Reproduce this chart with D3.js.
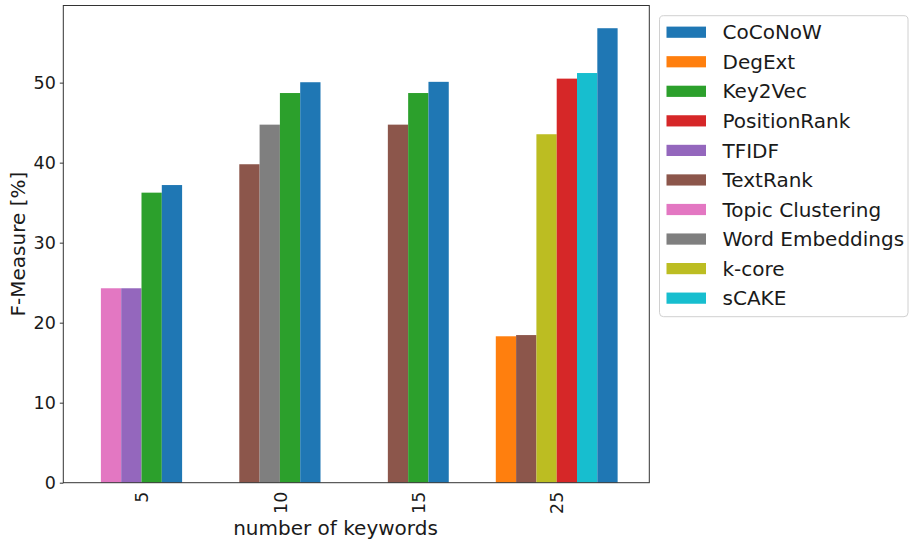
<!DOCTYPE html>
<html>
<head>
<meta charset="utf-8">
<script src="https://cdn.jsdelivr.net/npm/d3@7"></script>
<style>
body { margin: 0; background: #fff; }
text { font-family: "DejaVu Sans", sans-serif; fill: #1a1a1a; }
</style>
</head>
<body>
<div id="chart"></div>
<script>
var keywords = ["5", "10", "15", "25"];
var methods = ["CoCoNoW", "DegExt", "Key2Vec", "PositionRank", "TFIDF", "TextRank",
	"Topic Clustering", "Word Embeddings", "k-core", "sCAKE"];
var colors = ["#1f77b4", "#ff7f0e", "#2ca02c", "#d62728", "#9467bd", "#8c564b",
	"#e377c2", "#7f7f7f", "#bcbd22", "#17becf"];
var yTicks = [0, 10, 20, 30, 40, 50];

// F-measure per method, one value per keyword count (null = not reported)
var CoCoNoW         = [37.2, 50.05, 50.1, 56.8];
var DegExt          = [null, null, null, 18.3];
var Key2Vec         = [36.25, 48.7, 48.7, null];
var PositionRank    = [null, null, null, 50.5];
var TFIDF           = [24.3, null, null, null];
var TextRank        = [null, 39.8, 44.75, 18.45];
var TopicClustering = [24.3, null, null, null];
var WordEmbeddings  = [null, 44.75, null, null];
var kcore           = [null, null, null, 43.55];
var sCAKE           = [null, null, null, 51.2];

var series = [CoCoNoW, DegExt, Key2Vec, PositionRank, TFIDF, TextRank,
	TopicClustering, WordEmbeddings, kcore, sCAKE];

var width = 909, height = 541;
var plotL = 63.3, plotR = 649.3, plotT = 5.5, plotB = 482.7;
var barW = 0.1467;

var svg = d3.select("#chart")
	.append("svg")
	.attr("width", width)
	.attr("height", height);

var x = d3.scaleLinear().domain([-0.565, 3.669]).range([plotL, plotR]);
var y = d3.scaleLinear().domain([0, 59.64]).range([plotB, plotT]);

// bars: in each group only reported methods, sorted by value
var bars = [];
keywords.forEach(function(k, i){
	var g = [];
	series.forEach(function(s, m){
		if (s[i] != null) g.push({m: m, v: s[i]});
	});
	g.sort(function(a, b){ return a.v - b.v || b.m - a.m; });
	g.forEach(function(d, j){
		bars.push({m: d.m, v: d.v, x0: i + (j - g.length / 2) * barW});
	});
});

svg.append("g").selectAll("rect")
	.data(bars)
	.enter().append("rect")
	.attr("x", function(d){ return x(d.x0); })
	.attr("width", x(barW) - x(0))
	.attr("y", function(d){ return y(d.v); })
	.attr("height", function(d){ return y(0) - y(d.v); })
	.attr("fill", function(d){ return colors[d.m]; });

// frame
svg.append("rect")
	.attr("x", plotL).attr("y", plotT)
	.attr("width", plotR - plotL).attr("height", plotB - plotT)
	.attr("fill", "none")
	.attr("stroke", "#333")
	.attr("stroke-width", 1);

// y axis
var yAxis = svg.append("g")
	.attr("transform", "translate(" + plotL + ",0)")
	.call(d3.axisLeft(y).tickValues(yTicks).tickSize(3.5).tickPadding(4));
yAxis.select(".domain").remove();
yAxis.selectAll("line").attr("stroke", "#333");
yAxis.selectAll("text")
	.style("font-family", "DejaVu Sans")
	.style("font-size", "17.5px")
	.attr("fill", "#1a1a1a");

// x axis, rotated labels, no tick marks
var xAxis = svg.append("g")
	.attr("transform", "translate(0," + plotB + ")")
	.call(d3.axisBottom(x).tickValues(d3.range(keywords.length))
		.tickFormat(function(d){ return keywords[d]; }).tickSize(0));
xAxis.select(".domain").remove();
xAxis.selectAll("text")
	.style("font-family", "DejaVu Sans")
	.style("font-size", "17.5px")
	.attr("fill", "#1a1a1a")
	.attr("transform", "rotate(-90)")
	.attr("x", -9)
	.attr("y", 0)
	.attr("dy", "0.35em")
	.attr("text-anchor", "end");

svg.append("text")
	.attr("x", 335.5)
	.attr("y", 535)
	.attr("text-anchor", "middle")
	.style("font-size", "20px")
	.text("number of keywords");

svg.append("text")
	.attr("transform", "translate(25," + ((plotT + plotB) / 2) + ") rotate(-90)")
	.attr("text-anchor", "middle")
	.style("font-size", "20px")
	.text("F-Measure [%]");

// legend
var legend = svg.append("g").attr("transform", "translate(659.5,15.7)");
legend.append("rect")
	.attr("width", 248.5).attr("height", 301)
	.attr("rx", 4).attr("ry", 4)
	.attr("fill", "#fff")
	.attr("stroke", "#d0d0d0");
var item = legend.selectAll("g.item")
	.data(methods)
	.enter().append("g")
	.attr("class", "item")
	.attr("transform", function(d, i){ return "translate(0," + (16.6 + i * 29.55) + ")"; });
item.append("rect")
	.attr("x", 7).attr("y", -5.7)
	.attr("width", 39.5).attr("height", 11.2)
	.attr("fill", function(d, i){ return colors[i]; });
item.append("text")
	.attr("x", 63)
	.attr("dy", "0.35em")
	.style("font-size", "20px")
	.text(function(d){ return d; });
</script>
</body>
</html>
